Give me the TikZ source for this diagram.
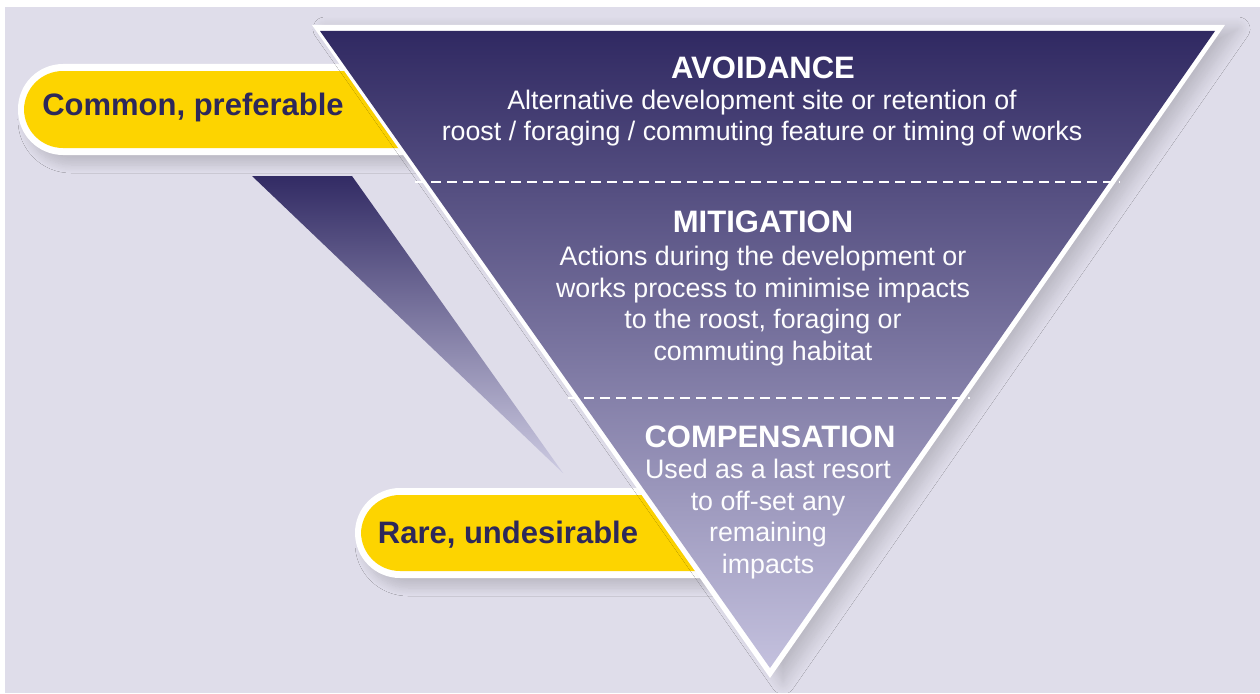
\documentclass[tikz,border=0pt]{standalone}
\usepackage{fontspec}
\setmainfont{Liberation Sans}
\usetikzlibrary{shadows.blur}
\definecolor{bg}{RGB}{223,221,234}
\definecolor{pillyellow}{RGB}{253,212,0}
\definecolor{navytext}{RGB}{45,40,90}
\definecolor{tritop}{RGB}{48,41,98}
\definecolor{trimid}{RGB}{104,97,152}
\definecolor{tribot}{RGB}{196,193,222}
\definecolor{wedgetop}{RGB}{50,43,100}
\definecolor{wedgebot}{RGB}{205,203,226}
\tikzset{
  pillouter/.style={fill=white, rounded corners=45pt,
     blur shadow={shadow xshift=8pt, shadow yshift=-10pt, shadow blur radius=8pt,
                  shadow blur steps=12, shadow opacity=14}},
  pillinner/.style={fill=pillyellow, rounded corners=39pt},
  pilltext/.style={font=\bfseries\fontsize{31}{36}\selectfont, text=navytext, inner sep=0pt},
  headtext/.style={font=\bfseries\fontsize{31}{36}\selectfont, text=white, inner sep=0pt},
  bodytext/.style={font=\fontsize{26.8}{31.5}\selectfont, text=white!95!bg, align=center, inner sep=0pt},
  divider/.style={white, line width=1.5pt, dash pattern=on 10pt off 6pt}
}
\begin{document}
\begin{tikzpicture}[x=1pt,y=-1pt]
\useasboundingbox (0,0) rectangle (1260,693);
\fill[white] (0,0) rectangle (1260,693);
\fill[bg] (5,7) rectangle (1260,693);

% pills
\path[pillouter] (18,64) rectangle (520,155);
\path[pillinner] (24,71) rectangle (520,148);
\path[pillouter] (355,488) rectangle (790,578);
\path[pillinner] (361,495) rectangle (790,571);

% wedge
\shade[top color=wedgetop, bottom color=wedgebot] (252,176) -- (352,176) -- (563,473) -- cycle;

% triangle
\fill[white, blur shadow={shadow xshift=13pt, shadow yshift=-4pt, shadow blur radius=12pt,
                          shadow blur steps=12, shadow opacity=16}]
   (312,25) -- (1225,25) -- (770,678) -- cycle;
\shade[top color=tritop, middle color=trimid, bottom color=tribot]
   (320,31) -- (1215,31) -- (770,668) -- cycle;

% dividers
\coordinate (d1l) at (415,182);
\coordinate (d1r) at (1120,182);
\coordinate (d2l) at (568,398);
\coordinate (d2r) at (970,398);
\draw[divider] (d1l) -- (d1r);
\draw[divider] (d2l) -- (d2r);

% texts
\node[pilltext] (common) at (193,107) {Common, preferable};
\node[pilltext] (rare) at (508,535) {Rare, undesirable};

\node[headtext] (avoid) at (763,68) {AVOIDANCE};
\node[bodytext] (avoidB) at (762,118) {Alternative development site or retention of\\roost / foraging / commuting feature or timing of works};

\node[headtext] (mitig) at (763,222) {MITIGATION};
\node[bodytext] (mitigB) at (763,306) {Actions during the development or\\works process to minimise impacts\\to the roost, foraging or\\commuting habitat};

\node[headtext] (comp) at (770,437) {COMPENSATION};
\node[bodytext] (compB) at (768,519) {Used as a last resort\\to off-set any\\remaining\\impacts};
\end{tikzpicture}
\end{document}
